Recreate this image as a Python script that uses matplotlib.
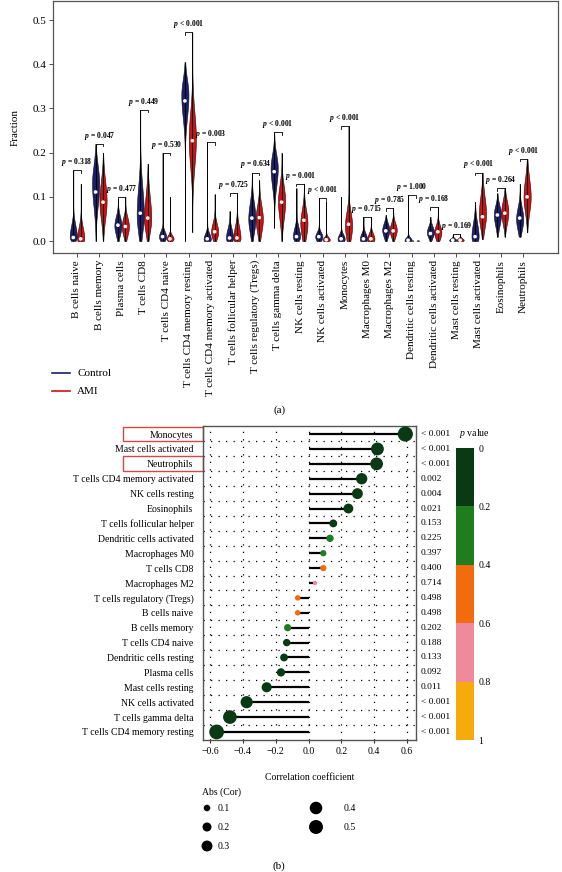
import numpy as np
import matplotlib
matplotlib.use("Agg")
import matplotlib.pyplot as plt
import matplotlib.transforms as mtransforms
from matplotlib.colors import ListedColormap, BoundaryNorm
from matplotlib.cm import ScalarMappable
from matplotlib.patches import Rectangle

plt.rcParams['font.family'] = ['Liberation Serif', 'DejaVu Serif']
plt.rcParams['mathtext.fontset'] = 'custom'
plt.rcParams['mathtext.rm'] = 'Liberation Serif'
plt.rcParams['mathtext.it'] = 'Liberation Serif:italic:bold'
plt.rcParams['mathtext.sf'] = 'Liberation Serif:italic'

# ---------------- panel (a): immune cell fractions ----------------
cells = ["B cells naive", "B cells memory", "Plasma cells", "T cells CD8",
         "T cells CD4 naive", "T cells CD4 memory resting",
         "T cells CD4 memory activated", "T cells follicular helper",
         "T cells regulatory (Tregs)", "T cells gamma delta", "NK cells resting",
         "NK cells activated", "Monocytes", "Macrophages M0", "Macrophages M2",
         "Dendritic cells resting", "Dendritic cells activated",
         "Mast cells resting", "Mast cells activated", "Eosinophils", "Neutrophils"]
p_group = [0.318, 0.047, 0.477, 0.449, 0.530, 0.0005, 0.003, 0.725, 0.634, 0.0005,
           0.001, 0.0005, 0.0005, 0.715, 0.785, 1.000, 0.168, 0.169, 0.0005, 0.264, 0.0005]

# Control: range, median, mode of the density and its spread below / above the mode
ctrl_min = [0, 0, 0, 0, 0, 0.0, 0, 0, 0, 0.03, 0, 0, 0, 0, 0, 0, 0, 0, 0, 0.01, 0.01]
ctrl_max = [0.16, 0.22, 0.095, 0.297, 0.2, 0.405, 0.224, 0.068, 0.155, 0.247, 0.12,
            0.098, 0.1, 0.055, 0.059, 0.104, 0.055, 0.015, 0.089, 0.108, 0.13]
ctrl_med = [0.008, 0.111, 0.036, 0.063, 0.01, 0.317, 0.005, 0.007, 0.052, 0.157, 0.01,
            0.01, 0.005, 0.005, 0.023, 0.002, 0.017, 0.002, 0.01, 0.059, 0.052]
ctrl_mode = [0.01, 0.13, 0.035, 0.06, 0.01, 0.33, 0.005, 0.007, 0.05, 0.165, 0.01,
             0.01, 0.005, 0.005, 0.025, 0.002, 0.02, 0.002, 0.01, 0.06, 0.05]
ctrl_sd_lo = [0.01, 0.05, 0.02, 0.04, 0.01, 0.05, 0.01, 0.01, 0.03, 0.04, 0.01,
              0.01, 0.01, 0.01, 0.015, 0.005, 0.012, 0.003, 0.015, 0.025, 0.025]
ctrl_sd_hi = [0.025, 0.04, 0.02, 0.06, 0.012, 0.035, 0.012, 0.02, 0.035, 0.03, 0.02,
              0.01, 0.01, 0.012, 0.015, 0.006, 0.013, 0.004, 0.03, 0.02, 0.025]

# AMI
ami_min = [0, 0, 0, 0, 0, 0.02, 0, 0, 0, 0, 0, 0, 0, 0, 0, 0, 0, 0, 0.005, 0.01, 0.02]
ami_max = [0.13, 0.2, 0.1, 0.175, 0.1, 0.472, 0.106, 0.108, 0.138, 0.2, 0.13,
           0.09, 0.26, 0.055, 0.075, 0.003, 0.077, 0.015, 0.155, 0.12, 0.186]
ami_med = [0.005, 0.088, 0.033, 0.052, 0.005, 0.227, 0.021, 0.007, 0.053, 0.088, 0.047,
           0.003, 0.038, 0.005, 0.023, 0.001, 0.021, 0.002, 0.055, 0.063, 0.1]
ami_mode = [0.005, 0.09, 0.033, 0.05, 0.005, 0.23, 0.02, 0.007, 0.05, 0.09, 0.04,
            0.003, 0.035, 0.005, 0.025, 0.001, 0.02, 0.002, 0.06, 0.065, 0.1]
ami_sd_lo = [0.01, 0.04, 0.02, 0.03, 0.005, 0.06, 0.015, 0.01, 0.03, 0.04, 0.03,
             0.004, 0.03, 0.01, 0.015, 0.001, 0.015, 0.003, 0.03, 0.025, 0.035]
ami_sd_hi = [0.025, 0.045, 0.02, 0.05, 0.008, 0.06, 0.02, 0.025, 0.03, 0.035, 0.03,
             0.006, 0.03, 0.012, 0.015, 0.001, 0.015, 0.004, 0.04, 0.025, 0.04]

# ---------------- panel (b): correlation with AMI ----------------
rows = ["Monocytes", "Mast cells activated", "Neutrophils", "T cells CD4 memory activated",
        "NK cells resting", "Eosinophils", "T cells follicular helper",
        "Dendritic cells activated", "Macrophages M0", "T cells CD8", "Macrophages M2",
        "T cells regulatory (Tregs)", "B cells naive", "B cells memory", "T cells CD4 naive",
        "Dendritic cells resting", "Plasma cells", "Mast cells resting",
        "NK cells activated", "T cells gamma delta", "T cells CD4 memory resting"]
cor = [0.59, 0.42, 0.415, 0.324, 0.298, 0.243, 0.151, 0.131, 0.09, 0.09, 0.04,
       -0.066, -0.066, -0.127, -0.133, -0.149, -0.168, -0.255, -0.377, -0.479, -0.56]
p_cor = [0.0005, 0.0005, 0.0005, 0.002, 0.004, 0.021, 0.153, 0.225, 0.397, 0.400, 0.714,
         0.498, 0.498, 0.202, 0.188, 0.133, 0.092, 0.011, 0.0005, 0.0005, 0.0005]
highlight = ["Monocytes", "Neutrophils"]
size_legend = [0.1, 0.2, 0.3, 0.4, 0.5]
p_bounds = [0, 0.2, 0.4, 0.6, 0.8, 1.0]
p_colors = ['#0a3a13', '#1f7d20', '#f26b0c', '#ef8a9b', '#f7aa0b']

CTRL_COL = '#1b1f6b'
AMI_COL = '#d01010'


def p_text(p):
    return '< 0.001' if p < 0.001 else f'{p:.3f}'


def violin_stats(vmin, vmax, med, mode, sd_lo, sd_hi):
    coords = np.linspace(vmin, vmax, 200)
    sd = np.where(coords < mode, sd_lo, sd_hi)
    vals = np.exp(-0.5 * ((coords - mode) / sd) ** 2)
    return dict(coords=coords, vals=vals, mean=med, median=med, min=vmin, max=vmax)


def dot_size(r):
    # marker area in pt^2 for |cor|
    return 0.5184 * (5 + 380 * np.abs(np.asarray(r)))


fig = plt.figure(figsize=(5.62, 8.72), dpi=100)

# ---- panel (a) ----
ax_a = fig.add_axes([53 / 562, 1 - 253 / 872, 505 / 562, 252 / 872])
x = np.arange(len(cells))
off = 0.166
groups = [
    (x - off, ctrl_min, ctrl_max, ctrl_med, ctrl_mode, ctrl_sd_lo, ctrl_sd_hi, CTRL_COL),
    (x + off, ami_min, ami_max, ami_med, ami_mode, ami_sd_lo, ami_sd_hi, AMI_COL),
]
for pos, mn, mx, md, mo, sl, sh, col in groups:
    stats = [violin_stats(*v) for v in zip(mn, mx, md, mo, sl, sh)]
    parts = ax_a.violin(stats, positions=pos, widths=0.32, showextrema=False)
    for b in parts['bodies']:
        b.set_facecolor(col)
        b.set_edgecolor('#101010')
        b.set_linewidth(0.4)
        b.set_alpha(1)
        b.set_zorder(2)
    ax_a.vlines(pos, mn, mx, color='black', lw=0.7, zorder=3)
    ax_a.scatter(pos, md, s=7, color='white', edgecolors='none', zorder=4)

tops = np.maximum(ctrl_max, ami_max)
leg = 0.006
for i, (t, p) in enumerate(zip(tops, p_group)):
    ax_a.plot([i - off, i - off, i + off, i + off], [t - leg, t, t, t - leg],
              color='black', lw=0.6, zorder=3)
    sign = '<' if p < 0.001 else '='
    val = '0.001' if p < 0.001 else f'{p:.3f}'
    ax_a.annotate(rf'$p$ {sign} {val}', xy=(i, t), xytext=(0, 1.5),
                  textcoords='offset points', ha='center', va='bottom',
                  fontsize=5.5, fontweight='bold')

ax_a.set_xlim(-1.075, 21.55)
ax_a.set_ylim(-0.027, 0.543)
ax_a.set_yticks([0, 0.1, 0.2, 0.3, 0.4, 0.5])
ax_a.set_yticklabels(['0.0', '0.1', '0.2', '0.3', '0.4', '0.5'])
ax_a.set_xticks(x)
ax_a.set_xticklabels(cells, rotation=90, ha='center', va='top')
ax_a.tick_params(axis='both', labelsize=8, length=3, width=0.6, color='#333333', pad=2)
ax_a.set_ylabel('Fraction', fontsize=8, labelpad=9)
for s in ax_a.spines.values():
    s.set_color('#555555')
    s.set_linewidth(0.9)

# ---- panel (b) ----
cmap = ListedColormap(p_colors)
norm = BoundaryNorm(p_bounds, cmap.N)

ax_b = fig.add_axes([203 / 562, 1 - 740 / 872, 213 / 562, 314 / 872])
yy = np.arange(len(rows))
ax_b.hlines(yy, 0, cor, color='black', lw=1.6, zorder=2)
ax_b.scatter(cor, yy, s=dot_size(cor), c=p_cor, cmap=cmap, norm=norm,
             edgecolors='none', zorder=3)
ax_b.set_xlim(-0.643, 0.655)
ax_b.set_ylim(len(rows) - 0.46, -0.54)
ax_b.set_xticks([-0.6, -0.4, -0.2, 0.0, 0.2, 0.4, 0.6])
ax_b.set_xticklabels(['\u22120.6', '\u22120.4', '\u22120.2', '0.0', '0.2', '0.4', '0.6'])
ax_b.set_yticks(yy)
ax_b.set_yticklabels(rows)
ax_b.set_yticks(np.arange(0.5, len(rows) - 1, 1), minor=True)
ax_b.grid(axis='x', which='major', color='black', lw=0.9, linestyle=(0, (1, 5)))
ax_b.grid(axis='y', which='minor', color='black', lw=0.9, linestyle=(0, (1, 5)))
ax_b.set_axisbelow(True)
ax_b.tick_params(axis='y', which='both', length=0, labelsize=7, pad=7)
ax_b.tick_params(axis='x', length=2, labelsize=7, pad=3, color='#333333')
ax_b.set_xlabel('Correlation coefficient', fontsize=7, labelpad=12)
for s in ax_b.spines.values():
    s.set_color('#555555')
    s.set_linewidth(1.0)

trans = mtransforms.blended_transform_factory(ax_b.transAxes, ax_b.transData)
for i, p in enumerate(p_cor):
    ax_b.text(1.023, i, p_text(p), transform=trans, ha='left', va='center', fontsize=6.8)
for name in highlight:
    i = rows.index(name)
    ax_b.add_patch(Rectangle((-0.376, i - 0.5), 0.376, 1.0, transform=trans,
                             fill=False, edgecolor='#d94545', lw=1.0, clip_on=False))

cax = fig.add_axes([456 / 562, 1 - 740 / 872, 18 / 562, 292 / 872])
cb = fig.colorbar(ScalarMappable(norm=norm, cmap=cmap), cax=cax, ticks=p_bounds)
cb.outline.set_visible(False)
cax.invert_yaxis()
cb.set_ticklabels(['0', '0.2', '0.4', '0.6', '0.8', '1'])
cax.tick_params(length=0, labelsize=7, pad=3)

# ---- overlay for legends and panel letters (pixel coordinates) ----
ov = fig.add_axes([0, 0, 1, 1], zorder=-1)
ov.set_xlim(0, 562)
ov.set_ylim(872, 0)
ov.axis('off')

ov.plot([52, 70], [373, 373], color=CTRL_COL, lw=1.2)
ov.plot([52, 70], [391, 391], color=AMI_COL, lw=1.2)
ov.text(77, 373, 'Control', fontsize=8, va='center')
ov.text(77, 391, 'AMI', fontsize=8, va='center')
ov.text(280, 410, '(a)', fontsize=8, ha='center', va='center')

ov.text(459, 433, r'$\mathsf{p}$ value', fontsize=7, ha='left', va='center')

ov.text(202, 792, 'Abs (Cor)', fontsize=7, ha='left', va='center')
leg_x = [207, 207, 207, 316, 316]
leg_y = [808, 827, 846, 808, 827]
ov.scatter(leg_x, leg_y, s=dot_size(size_legend), color='black', edgecolors='none')
for lx, ly, v in zip(leg_x, leg_y, size_legend):
    ov.text(lx + (11 if lx < 300 else 28), ly, f'{v:.1f}', fontsize=7, va='center')
ov.text(279, 866, '(b)', fontsize=8, ha='center', va='center')

fig.savefig('out.png', dpi=100)
